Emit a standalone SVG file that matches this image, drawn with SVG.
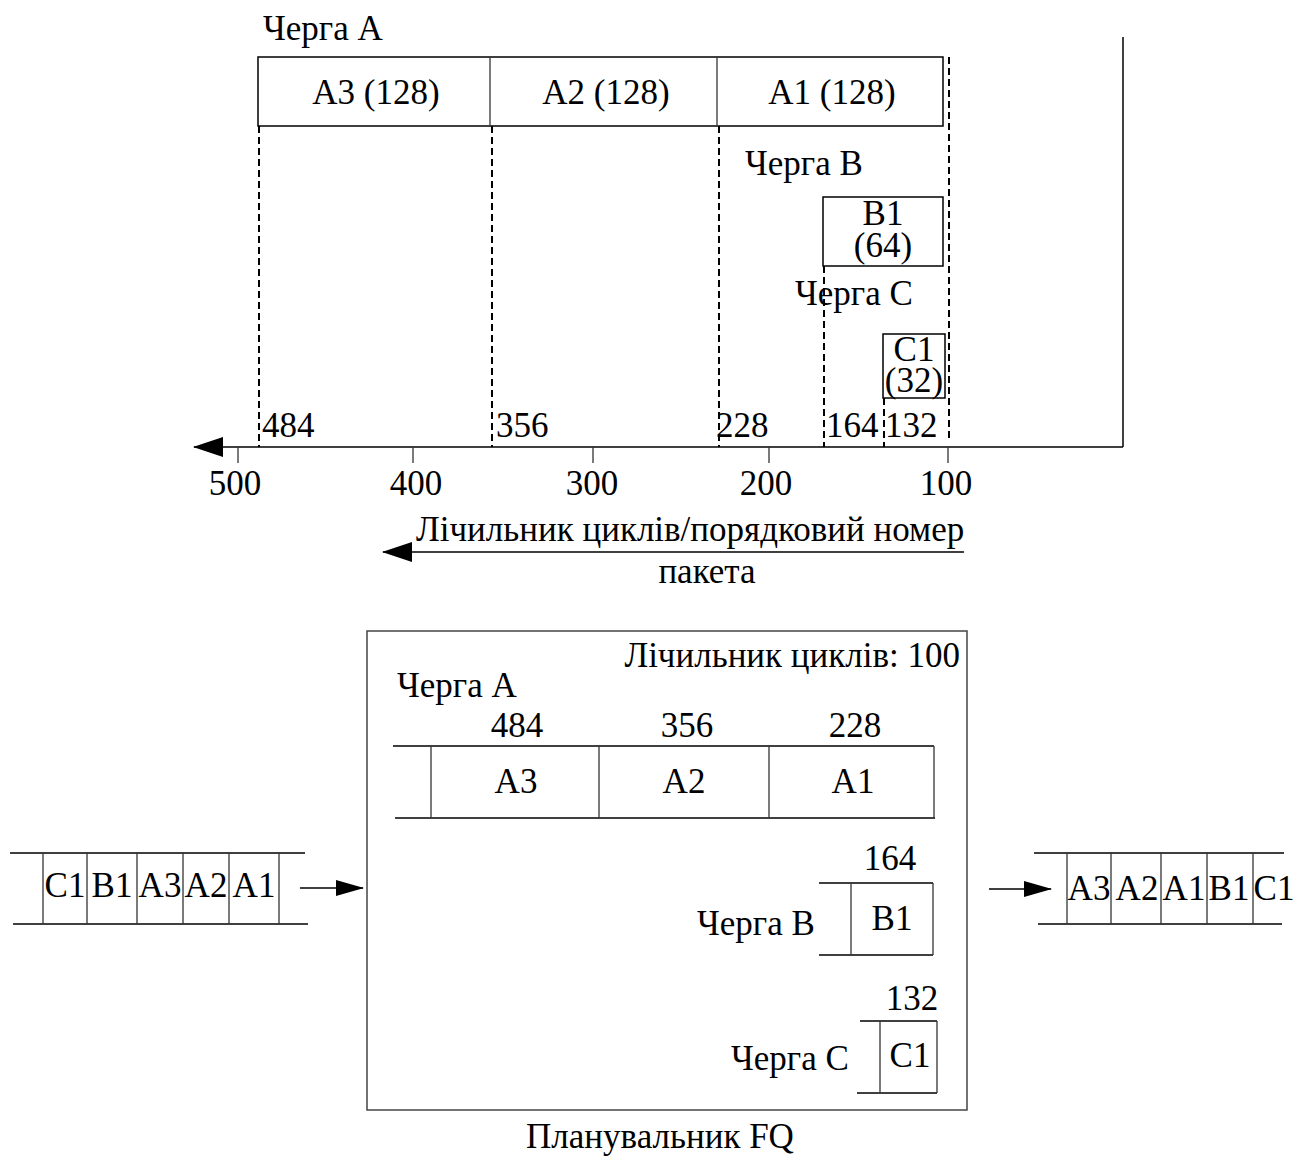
<svg xmlns="http://www.w3.org/2000/svg" width="1294" height="1157" viewBox="0 0 1294 1157">
  <defs>
    <marker id="arrowBig" viewBox="0 0 30 20" refX="29" refY="10" markerWidth="30" markerHeight="20" markerUnits="userSpaceOnUse" orient="auto">
      <path d="M0,0 L30,10 L0,20 Z" fill="#000"/>
    </marker>
    <marker id="arrowSmall" viewBox="0 0 28 16" refX="27" refY="8" markerWidth="28" markerHeight="16" markerUnits="userSpaceOnUse" orient="auto">
      <path d="M0,0 L28,8 L0,16 Z" fill="#000"/>
    </marker>
  </defs>
  <style>
    text { font-family: "Liberation Serif", "Times New Roman", serif; font-size: 35px; fill: #000; }
    .mid { text-anchor: middle; }
    .end { text-anchor: end; }
    .ln { stroke: #000; stroke-width: 1.5; fill: none; }
    .cell { stroke: #333; stroke-width: 1.3; fill: none; }
    .dash { stroke: #000; stroke-width: 2; stroke-dasharray: 7 4; fill: none; }
    .frame { stroke: #444; stroke-width: 1.5; fill: #fff; }
  </style>
  <rect width="1294" height="1157" fill="#fff"/>

  <!-- ===== Upper part: timeline of virtual finish numbers ===== -->
  <g id="timeline-axis">
    <line class="ln" x1="1123" y1="37" x2="1123" y2="447"/>
    <line class="ln" x1="1123" y1="447" x2="194" y2="447" marker-end="url(#arrowBig)"/>
    <g class="cell">
      <line x1="238" y1="447" x2="238" y2="463"/>
      <line x1="413" y1="447" x2="413" y2="463"/>
      <line x1="593" y1="447" x2="593" y2="463"/>
      <line x1="769" y1="447" x2="769" y2="463"/>
      <line x1="948" y1="447" x2="948" y2="463"/>
    </g>
    <text class="mid" x="235" y="495">500</text>
    <text class="mid" x="416" y="495">400</text>
    <text class="mid" x="592" y="495">300</text>
    <text class="mid" x="766" y="495">200</text>
    <text class="mid" x="946" y="495">100</text>
  </g>

  <g id="finish-marks">
    <line class="dash" x1="259" y1="126" x2="259" y2="447"/>
    <line class="dash" x1="492" y1="126" x2="492" y2="447"/>
    <line class="dash" x1="719" y1="126" x2="719" y2="447"/>
    <line class="dash" x1="824" y1="266" x2="824" y2="447"/>
    <line class="dash" x1="884" y1="398" x2="884" y2="447"/>
    <line class="dash" x1="949" y1="57" x2="949" y2="440"/>
    <text x="262" y="437">484</text>
    <text x="496" y="437">356</text>
    <text x="716" y="437">228</text>
    <text x="826" y="437">164</text>
    <text x="885" y="437">132</text>
  </g>

  <g id="queue-a-top">
    <text x="263" y="40">Черга A</text>
    <rect class="ln" x="258" y="57" width="685" height="69"/>
    <line class="cell" x1="490" y1="57" x2="490" y2="126"/>
    <line class="cell" x1="717" y1="57" x2="717" y2="126"/>
    <text class="mid" x="376" y="104">A3 (128)</text>
    <text class="mid" x="606" y="104">A2 (128)</text>
    <text class="mid" x="832" y="104">A1 (128)</text>
  </g>

  <g id="queue-b-top">
    <text x="745" y="175">Черга B</text>
    <rect class="ln" x="823" y="197" width="120" height="69"/>
    <text class="mid" x="883" y="225">B1</text>
    <text class="mid" x="883" y="257">(64)</text>
  </g>

  <g id="queue-c-top">
    <text x="795" y="305">Черга C</text>
    <rect class="ln" x="883" y="334" width="62" height="64"/>
    <text class="mid" x="914" y="361">C1</text>
    <text class="mid" x="914" y="392">(32)</text>
  </g>

  <g id="axis-caption">
    <text x="416" y="541">Лічильник циклів/порядковий номер</text>
    <line class="ln" x1="964" y1="552" x2="383" y2="552" marker-end="url(#arrowBig)"/>
    <text class="mid" x="707" y="583">пакета</text>
  </g>

  <!-- ===== Lower part: scheduler ===== -->
  <g id="scheduler">
    <rect class="frame" x="367" y="631" width="600" height="479"/>
    <text class="end" x="960" y="667">Лічильник циклів: 100</text>
    <text class="mid" x="660" y="1148">Планувальник FQ</text>
  </g>

  <g id="scheduler-queue-a">
    <text x="397" y="697">Черга A</text>
    <text class="mid" x="517" y="737">484</text>
    <text class="mid" x="687" y="737">356</text>
    <text class="mid" x="855" y="737">228</text>
    <line class="ln" x1="393" y1="746" x2="934" y2="746"/>
    <line class="ln" x1="395" y1="818" x2="935" y2="818"/>
    <g class="cell">
      <line x1="431" y1="746" x2="431" y2="818"/>
      <line x1="599" y1="746" x2="599" y2="818"/>
      <line x1="769" y1="746" x2="769" y2="818"/>
      <line x1="934" y1="746" x2="934" y2="818"/>
    </g>
    <text class="mid" x="516" y="793">A3</text>
    <text class="mid" x="684" y="793">A2</text>
    <text class="mid" x="853" y="793">A1</text>
  </g>

  <g id="scheduler-queue-b">
    <text class="mid" x="890" y="870">164</text>
    <line class="ln" x1="819" y1="883" x2="933" y2="883"/>
    <line class="ln" x1="819" y1="955" x2="933" y2="955"/>
    <line class="cell" x1="851" y1="883" x2="851" y2="955"/>
    <line class="cell" x1="933" y1="883" x2="933" y2="955"/>
    <text class="mid" x="892" y="930">B1</text>
    <text x="697" y="935">Черга B</text>
  </g>

  <g id="scheduler-queue-c">
    <text class="mid" x="912" y="1010">132</text>
    <line class="ln" x1="860" y1="1021" x2="937" y2="1021"/>
    <line class="ln" x1="857" y1="1093" x2="937" y2="1093"/>
    <line class="cell" x1="880" y1="1021" x2="880" y2="1093"/>
    <line class="cell" x1="937" y1="1021" x2="937" y2="1093"/>
    <text class="mid" x="910" y="1067">C1</text>
    <text x="731" y="1070">Черга C</text>
  </g>

  <!-- incoming packet stream -->
  <g id="input-queue">
    <line class="ln" x1="10" y1="853" x2="305" y2="853"/>
    <line class="ln" x1="13" y1="924" x2="308" y2="924"/>
    <g class="cell">
      <line x1="43" y1="853" x2="43" y2="924"/>
      <line x1="87" y1="853" x2="87" y2="924"/>
      <line x1="137" y1="853" x2="137" y2="924"/>
      <line x1="183" y1="853" x2="183" y2="924"/>
      <line x1="229" y1="853" x2="229" y2="924"/>
      <line x1="279" y1="853" x2="279" y2="924"/>
    </g>
    <text class="mid" x="65" y="897">C1</text>
    <text class="mid" x="112" y="897">B1</text>
    <text class="mid" x="160" y="897">A3</text>
    <text class="mid" x="206" y="897">A2</text>
    <text class="mid" x="254" y="897">A1</text>
  </g>

  <!-- outgoing packet stream -->
  <g id="output-queue">
    <line class="ln" x1="1034" y1="853" x2="1284" y2="853"/>
    <line class="ln" x1="1038" y1="924" x2="1282" y2="924"/>
    <g class="cell">
      <line x1="1067" y1="853" x2="1067" y2="924"/>
      <line x1="1111" y1="853" x2="1111" y2="924"/>
      <line x1="1161" y1="853" x2="1161" y2="924"/>
      <line x1="1207" y1="853" x2="1207" y2="924"/>
      <line x1="1253" y1="853" x2="1253" y2="924"/>
    </g>
    <text class="mid" x="1089" y="900">A3</text>
    <text class="mid" x="1137" y="900">A2</text>
    <text class="mid" x="1184" y="900">A1</text>
    <text class="mid" x="1229" y="900">B1</text>
    <text class="mid" x="1274" y="900">C1</text>
  </g>

  <g id="connectors">
    <line class="ln" x1="300" y1="888" x2="363" y2="888" marker-end="url(#arrowSmall)"/>
    <line class="ln" x1="989" y1="889" x2="1051" y2="889" marker-end="url(#arrowSmall)"/>
  </g>
</svg>
